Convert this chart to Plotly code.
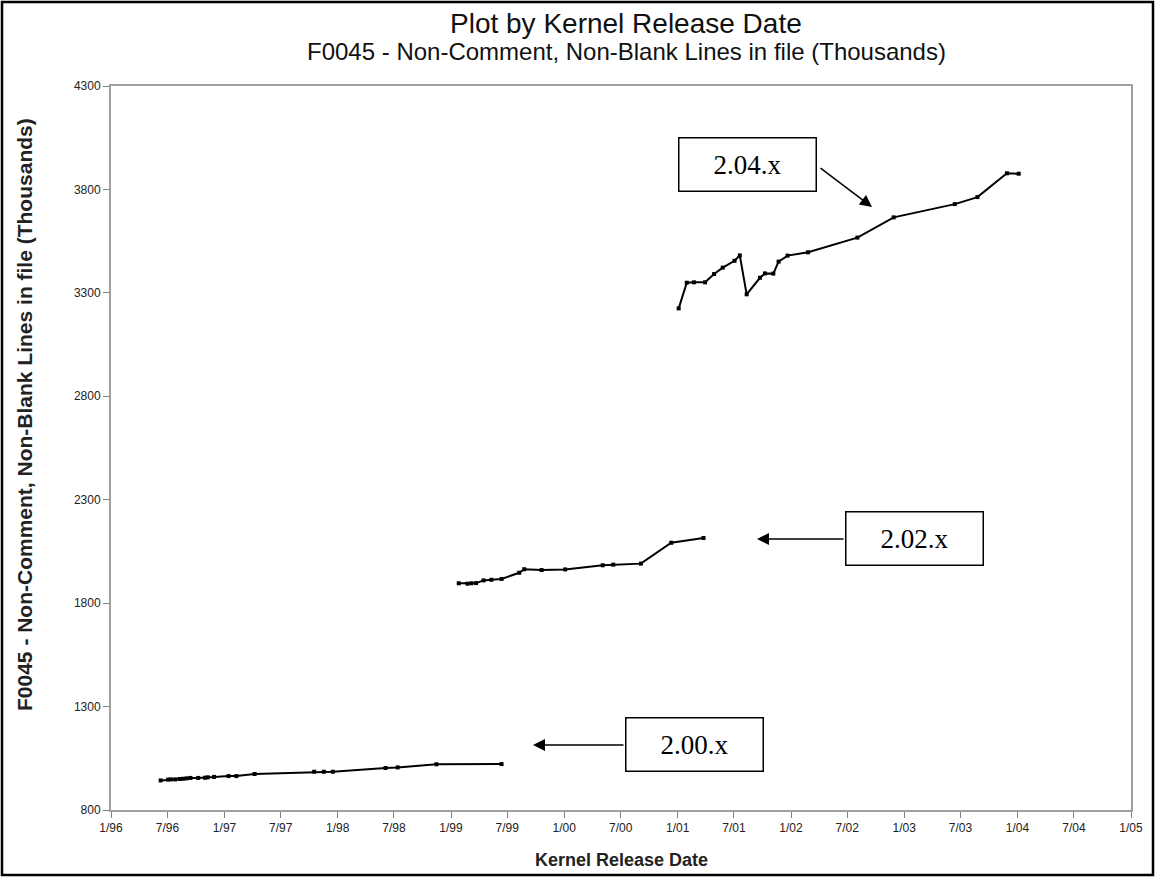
import plotly.graph_objects as go

# Release dates and code size (thousands of non-comment, non-blank lines)
dates_200 = ["1996-06-09", "1996-07-03", "1996-07-12", "1996-07-26", "1996-08-09",
             "1996-08-20", "1996-09-01", "1996-09-13", "1996-10-08", "1996-10-30",
             "1996-11-08", "1996-11-28", "1997-01-14", "1997-02-08", "1997-04-08",
             "1997-10-17", "1997-11-17", "1997-12-16", "1998-06-04", "1998-07-13",
             "1998-11-15", "1999-06-13"]
lines_200 = [943, 947, 948, 948, 950, 951, 953, 955, 955, 956, 958, 960,
             964, 964, 974, 985, 985, 985, 1003, 1006, 1021, 1022]

dates_202 = ["1999-01-26", "1999-02-23", "1999-03-08", "1999-03-23", "1999-04-16",
             "1999-05-11", "1999-06-13", "1999-08-09", "1999-08-25", "1999-10-20",
             "2000-01-04", "2000-05-04", "2000-06-07", "2000-09-04", "2000-12-11",
             "2001-03-25"]
lines_202 = [1896, 1894, 1896, 1897, 1910, 1913, 1917, 1947, 1964, 1960,
             1963, 1983, 1986, 1991, 2092, 2115]

dates_204 = ["2001-01-04", "2001-01-30", "2001-02-22", "2001-03-30", "2001-04-28",
             "2001-05-26", "2001-07-03", "2001-07-20", "2001-08-11", "2001-09-23",
             "2001-10-09", "2001-11-05", "2001-11-22", "2001-12-21", "2002-02-25",
             "2002-08-03", "2002-11-28", "2003-06-13", "2003-08-25", "2003-11-28",
             "2004-01-05"]
lines_204 = [3225, 3349, 3351, 3351, 3391, 3422, 3455, 3481, 3293, 3373,
             3394, 3393, 3451, 3480, 3496, 3567, 3665, 3729, 3763, 3878, 3876]

series_labels = ["2.00.x", "2.02.x", "2.04.x"]

x_ticks = [f"{y}-{m:02d}-01" for y in range(1996, 2005) for m in (1, 7)] + ["2005-01-01"]
y_ticks = [800, 1300, 1800, 2300, 2800, 3300, 3800, 4300]

W, H = 1155, 877
ML, MR, MT, MB = 111, 24, 86, 67
PW, PH = W - ML - MR, H - MT - MB

SANS = "Liberation Sans, Arial"
SERIF = "Liberation Serif, Times New Roman"


def px(x):
    return (x - ML) / PW


def py(y):
    return (H - MB - y) / PH


fig = go.Figure()
for d, v in ((dates_200, lines_200), (dates_202, lines_202), (dates_204, lines_204)):
    fig.add_trace(go.Scatter(
        x=d, y=v, mode="lines+markers",
        line=dict(color="black", width=2),
        marker=dict(symbol="square", size=4, color="black"),
        showlegend=False, hoverinfo="x+y"))

axis_common = dict(
    showline=True, linecolor="#a0a0a0", linewidth=2, mirror=True,
    ticks="outside", ticklen=6, tickcolor="#808080", tickwidth=1,
    showgrid=False, zeroline=False,
    tickfont=dict(family=SANS, size=12, color="#222"),
)

fig.update_xaxes(type="date", range=["1996-01-01", "2005-01-01"],
                 tickvals=x_ticks, tickformat="%-m/%y", **axis_common)
fig.update_yaxes(range=[800, 4300], tickvals=y_ticks, **axis_common)

annotations = [
    dict(text="Plot by Kernel Release Date", xref="paper", yref="paper",
         x=px(626), y=py(23), xanchor="center", yanchor="middle", showarrow=False,
         font=dict(family=SANS, size=28, color="#111")),
    dict(text="F0045 - Non-Comment, Non-Blank Lines in file (Thousands)",
         xref="paper", yref="paper", x=px(626), y=py(51),
         xanchor="center", yanchor="middle", showarrow=False,
         font=dict(family=SANS, size=24, color="#111")),
    dict(text="<b>Kernel Release Date</b>", xref="paper", yref="paper",
         x=px(621), y=py(860), xanchor="center", yanchor="middle", showarrow=False,
         font=dict(family=SANS, size=18, color="#222")),
    dict(text="<b>F0045 - Non-Comment, Non-Blank Lines in file (Thousands)</b>",
         xref="paper", yref="paper", x=px(24), y=py(415), textangle=-90,
         xanchor="center", yanchor="middle", showarrow=False,
         font=dict(family=SANS, size=21, color="#222")),
]

# Release-series label boxes: (label, box centre, arrow start, arrow tip) in pixels
boxes = [
    (series_labels[2], (747.5, 164), (819, 167), (872, 207)),
    (series_labels[1], (914, 538.5), (845, 539), (757, 539)),
    (series_labels[0], (694, 744), (625, 745), (533, 745)),
]
for label, (cx, cy), (sx, sy), (tx, ty) in boxes:
    annotations.append(dict(
        text=label, xref="paper", yref="paper", x=px(cx), y=py(cy),
        xanchor="center", yanchor="middle",
        showarrow=False, width=136, height=52, borderpad=0,
        bordercolor="black", borderwidth=1.5, bgcolor="white",
        font=dict(family=SERIF, size=27, color="black")))
    annotations.append(dict(
        text="", xref="paper", yref="paper", x=px(tx), y=py(ty),
        ax=sx - tx, ay=sy - ty, showarrow=True,
        arrowhead=2, arrowsize=1.6, arrowwidth=1.5, arrowcolor="black"))

fig.update_layout(
    width=W, height=H,
    margin=dict(l=ML, r=MR, t=MT, b=MB),
    paper_bgcolor="white", plot_bgcolor="white",
    annotations=annotations,
    shapes=[dict(type="rect", xref="paper", yref="paper",
                 x0=px(2), x1=px(W - 2), y0=py(H - 2), y1=py(2),
                 line=dict(color="black", width=2.5), layer="above")],
)

fig.write_html("out.html")
